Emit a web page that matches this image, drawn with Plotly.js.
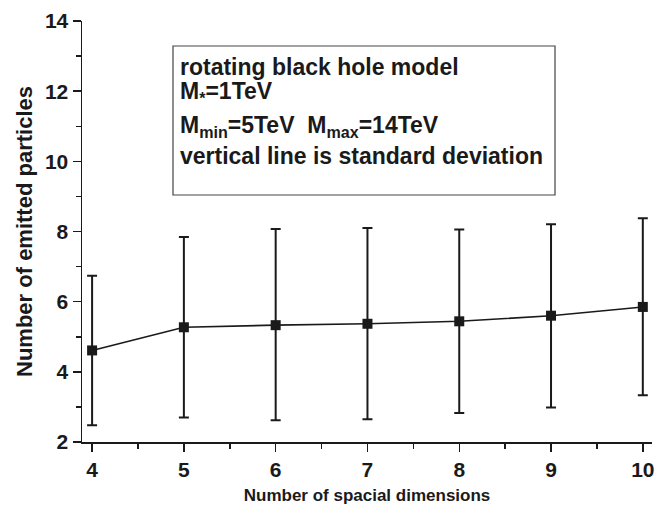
<!DOCTYPE html>
<html><head><meta charset="utf-8">
<script src="https://cdn.plot.ly/plotly-3.0.1.min.js"></script>
<style>body{margin:0;background:#fff}#c{width:658px;height:508px}</style>
</head><body><div id="c"></div>
<script>
const dims = [4, 5, 6, 7, 8, 9, 10];
const meanParticles = [4.61, 5.27, 5.33, 5.37, 5.44, 5.60, 5.85];
const upperBound = [6.74, 7.84, 8.07, 8.10, 8.06, 8.21, 8.38];
const lowerBound = [2.48, 2.70, 2.62, 2.65, 2.83, 2.98, 3.33];
const legendLines = [
  "rotating black hole model",
  "M<sub>*</sub>=1TeV",
  "M<sub>min</sub>=5TeV  M<sub>max</sub>=14TeV",
  "vertical line is standard deviation"
];

const errPlus = upperBound.map((u, i) => u - meanParticles[i]);
const errMinus = lowerBound.map((l, i) => meanParticles[i] - l);
const F = '"Liberation Sans", Arial, sans-serif';
const ink = '#1a1a1a';

const trace = {
  x: dims, y: meanParticles, type: 'scatter', mode: 'lines+markers',
  line: {color: ink, width: 1.6},
  marker: {symbol: 'square', size: 10, color: ink},
  error_y: {type: 'data', symmetric: false, array: errPlus, arrayminus: errMinus,
            color: ink, thickness: 2, width: 5},
  showlegend: false
};

const lineY = [67, 92, 127, 156];
const annotations = legendLines.map((t, i) => ({
  text: '<b>' + t + '</b>', xref: 'paper', yref: 'paper',
  x: (179 - 82) / (658 - 82 - 6), y: 1 - (lineY[i] - 21) / (442 - 21),
  xanchor: 'left', yanchor: 'middle', showarrow: false, borderpad: 0,
  font: {family: F, size: 23, color: ink}, align: 'left'
}));

const layout = {
  width: 658, height: 508,
  margin: {l: 82, r: 6, t: 21, b: 66},
  paper_bgcolor: '#fff', plot_bgcolor: '#fff',
  font: {family: F, color: ink},
  xaxis: {
    range: [3.89, 10.1], tickvals: dims, ticktext: dims.map(String),
    showgrid: false, zeroline: false, showline: true, linecolor: ink, linewidth: 1.5,
    ticks: 'outside', ticklen: 8, tickwidth: 1.5, tickcolor: ink,
    minor: {dtick: 0.5, tick0: 4, ticks: 'outside', ticklen: 5, tickwidth: 1.5, tickcolor: ink, showgrid: false},
    tickfont: {family: F, size: 21, color: ink, weight: 'bold'},
    title: {text: '<b>Number of spacial dimensions</b>', font: {family: F, size: 17, color: ink}, standoff: 9}
  },
  yaxis: {
    range: [2, 14], tickvals: [2, 4, 6, 8, 10, 12, 14],
    showgrid: false, zeroline: false, showline: true, linecolor: ink, linewidth: 1.5,
    ticks: 'outside', ticklen: 8, tickwidth: 1.5, tickcolor: ink,
    minor: {dtick: 1, tick0: 2, ticks: 'outside', ticklen: 5, tickwidth: 1.5, tickcolor: ink, showgrid: false},
    tickfont: {family: F, size: 21, color: ink, weight: 'bold'},
    title: {text: '<b>Number of emitted particles</b>', font: {family: F, size: 22, color: ink}, standoff: 6}
  },
  shapes: [{
    type: 'rect', xref: 'paper', yref: 'paper',
    x0: (173 - 82) / 570, x1: (555 - 82) / 570,
    y0: 1 - (195 - 21) / 421, y1: 1 - (46 - 21) / 421,
    line: {color: '#444', width: 1.2}, fillcolor: 'rgba(0,0,0,0)'
  }],
  annotations: annotations
};

Plotly.newPlot('c', [trace], layout, {displayModeBar: false, staticPlot: true});
</script></body></html>
